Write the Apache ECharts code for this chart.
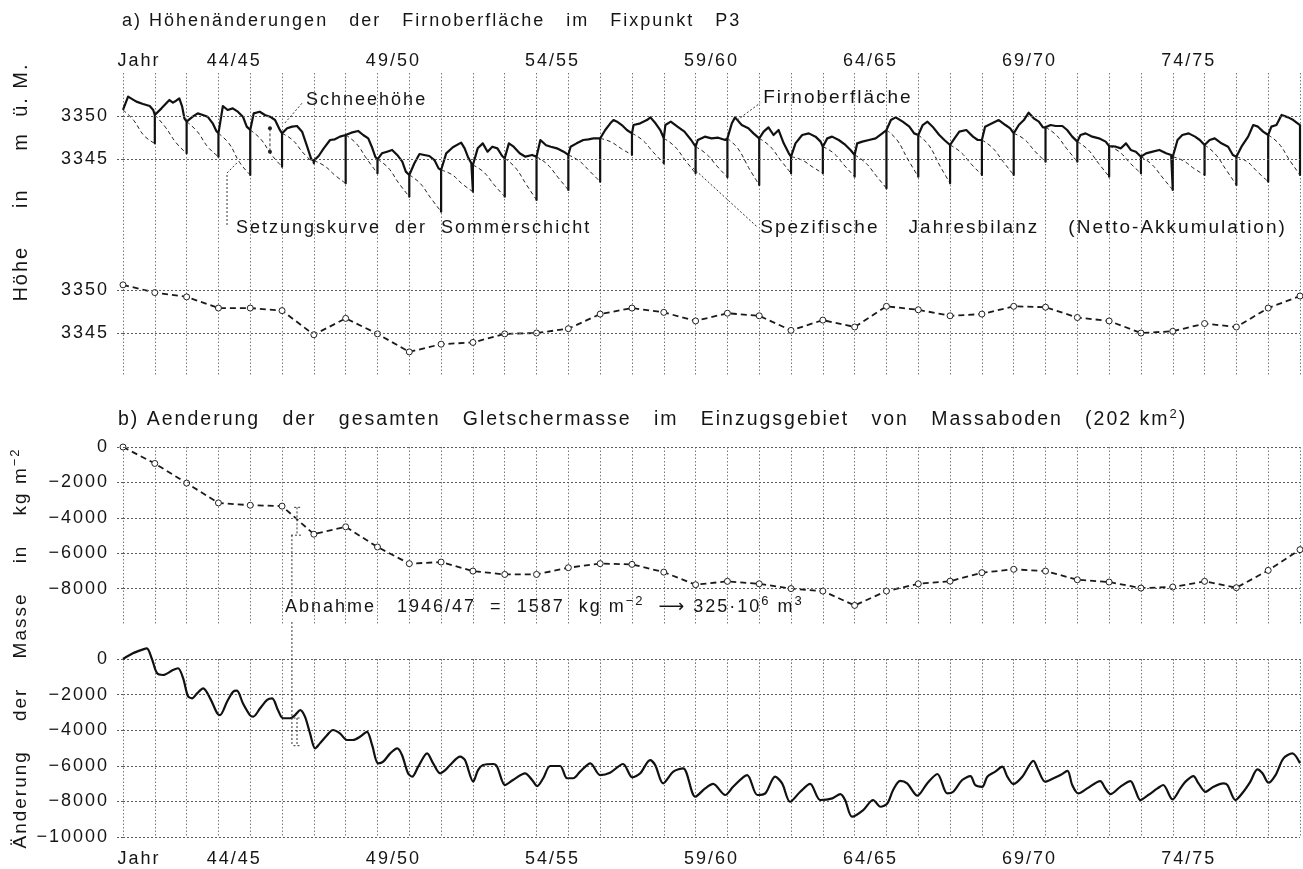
<!DOCTYPE html>
<html>
<head>
<meta charset="utf-8">
<script src="https://cdn.jsdelivr.net/npm/echarts@6/dist/echarts.min.js"></script>
<style>
  html, body { margin: 0; padding: 0; background: #fff; }
  #chart { width: 1303px; height: 869px; }
</style>
</head>
<body>
<div id="chart"></div>
<script>
// Time axis: t = years since 1 October 1941 (start of hydrological year 41/42).
const xLabelPos = [0.5, 3.5, 8.5, 13.5, 18.5, 23.5, 28.5, 33.5];
const xLabelText = ['Jahr', '44/45', '49/50', '54/55', '59/60', '64/65', '69/70', '74/75'];

// a) Firn surface height at stake P3 [m ü.M.], [t, h]
const firnSurface = [
  [0, 3350.70], [0.16, 3352.25], [0.42, 3351.67], [0.63, 3351.40], [0.84, 3351.16], [0.95, 3350.70],
  [1, 3350.12], [1.21, 3350.89], [1.36, 3351.47], [1.46, 3351.86], [1.57, 3351.55], [1.67, 3351.78], [1.77, 3352.05], [1.86, 3351.09], [1.93, 3349.73],
  [2, 3349.34], [2.19, 3349.92], [2.35, 3350.31], [2.51, 3350.12], [2.66, 3349.92], [2.82, 3349.15], [2.93, 3348.29],
  [3, 3347.98], [3.14, 3351.16], [3.29, 3350.70], [3.45, 3350.89], [3.61, 3350.50], [3.77, 3349.92], [3.89, 3348.76],
  [4, 3348.37], [4.11, 3350.31], [4.30, 3350.50], [4.46, 3350.12], [4.62, 3349.92], [4.78, 3349.53], [4.92, 3348.45],
  [5, 3347.98], [5.16, 3348.57], [5.32, 3348.76], [5.47, 3348.84], [5.63, 3348.18], [5.79, 3346.43], [5.92, 3344.96],
  [6, 3344.81], [6.15, 3345.35], [6.31, 3346.24], [6.51, 3347.21], [6.66, 3347.29], [6.82, 3347.60],
  [7, 3347.79], [7.18, 3348.06], [7.39, 3348.26], [7.55, 3347.79], [7.71, 3347.40], [7.82, 3346.43], [7.93, 3345.27],
  [8, 3344.96], [8.14, 3345.66], [8.30, 3345.85], [8.46, 3346.05], [8.62, 3345.47], [8.78, 3344.69], [8.89, 3343.53],
  [9, 3343.14], [9.16, 3344.50], [9.32, 3345.58], [9.47, 3345.47], [9.63, 3345.35], [9.79, 3344.88], [9.92, 3343.91],
  [10, 3343.72], [10.16, 3345.66], [10.37, 3346.36], [10.63, 3346.90], [10.74, 3346.24], [10.84, 3345.27], [10.95, 3344.50],
  [11, 3344.30], [11.15, 3346.24], [11.31, 3346.82], [11.46, 3345.85], [11.61, 3346.43], [11.77, 3346.24], [11.92, 3345.35],
  [12, 3345.08], [12.13, 3346.82], [12.28, 3346.43], [12.47, 3345.66], [12.65, 3345.27], [12.86, 3345.47],
  [13, 3345.27], [13.12, 3347.21], [13.30, 3346.60], [13.45, 3346.43], [13.64, 3346.24], [13.85, 3345.85],
  [14, 3345.47], [14.07, 3346.43], [14.26, 3346.82], [14.47, 3347.21], [14.63, 3347.29], [14.79, 3347.40],
  [15, 3347.40], [15.16, 3348.37], [15.32, 3349.15], [15.42, 3349.53], [15.53, 3349.34], [15.68, 3348.95], [15.84, 3348.37],
  [16, 3347.98], [16.05, 3348.95], [16.26, 3349.15], [16.47, 3349.53], [16.58, 3349.84], [16.74, 3349.15], [16.89, 3348.37],
  [17, 3347.40], [17.05, 3348.95], [17.22, 3349.34], [17.43, 3348.76], [17.65, 3348.18], [17.86, 3347.21],
  [18, 3346.43], [18.07, 3347.21], [18.29, 3347.60], [18.50, 3347.40], [18.71, 3347.48], [18.93, 3347.21],
  [19, 3347.40], [19.14, 3349.15], [19.24, 3349.84], [19.45, 3348.95], [19.66, 3348.57], [19.82, 3347.98],
  [20, 3347.40], [20.14, 3348.18], [20.29, 3348.68], [20.45, 3347.79], [20.61, 3348.37], [20.77, 3346.82], [20.93, 3345.66],
  [21, 3345.27], [21.14, 3346.82], [21.35, 3347.79], [21.56, 3347.98], [21.77, 3347.60], [21.93, 3347.02],
  [22, 3346.43], [22.14, 3347.40], [22.29, 3347.60], [22.50, 3347.21], [22.71, 3346.63], [22.87, 3346.05],
  [23, 3345.47], [23.08, 3346.82], [23.24, 3347.02], [23.45, 3347.21], [23.66, 3347.40], [23.87, 3347.98],
  [24, 3348.37], [24.14, 3349.53], [24.29, 3349.84], [24.51, 3349.34], [24.72, 3348.76], [24.87, 3347.98],
  [25, 3347.79], [25.14, 3348.95], [25.29, 3349.34], [25.45, 3348.76], [25.66, 3347.79], [25.82, 3347.21],
  [26, 3346.63], [26.14, 3347.40], [26.29, 3348.18], [26.51, 3348.37], [26.72, 3347.60], [26.87, 3347.21],
  [27, 3347.21], [27.10, 3348.76], [27.32, 3349.15], [27.53, 3349.53], [27.74, 3348.95], [27.89, 3348.57],
  [28, 3347.98], [28.16, 3348.95], [28.32, 3349.53], [28.47, 3350.39], [28.63, 3349.73], [28.79, 3349.34], [28.92, 3348.68],
  [29, 3348.68], [29.16, 3348.95], [29.32, 3348.84], [29.53, 3348.84], [29.68, 3348.37], [29.84, 3347.60],
  [30, 3347.02], [30.10, 3347.79], [30.26, 3347.98], [30.47, 3347.60], [30.68, 3347.40], [30.89, 3347.02],
  [31, 3346.51], [31.21, 3346.43], [31.37, 3346.24], [31.53, 3346.82], [31.68, 3346.05], [31.84, 3345.85],
  [32, 3345.27], [32.16, 3345.66], [32.37, 3345.85], [32.58, 3346.05], [32.79, 3345.66], [32.95, 3345.47],
  [33, 3345.27], [33.15, 3347.21], [33.30, 3347.79], [33.50, 3347.98], [33.70, 3347.60], [33.85, 3347.21],
  [34, 3346.63], [34.16, 3347.21], [34.32, 3347.40], [34.53, 3346.82], [34.74, 3346.43], [34.89, 3345.47],
  [35, 3345.27], [35.16, 3346.43], [35.37, 3347.60], [35.53, 3348.95], [35.68, 3348.76], [35.84, 3348.18],
  [36, 3347.79], [36.10, 3348.76], [36.26, 3348.95], [36.42, 3350.12], [36.63, 3349.84], [36.79, 3349.53],
  [37, 3348.95]
];

// Settling of each summer layer: height one year after it formed [m ü.M.]
const settleEnd = [
  3346.82, 3345.66, 3345.27, 3343.14, 3344.11, 3344.50, 3342.17, 3343.33, 3340.62, 3338.88,
  3341.20, 3340.62, 3340.23, 3341.40, 3342.36, 3345.47, 3344.50, 3343.33, 3342.87, 3341.98,
  3343.33, 3343.33, 3342.95, 3341.59, 3342.95, 3342.17, 3343.14, 3343.14, 3344.69, 3344.69,
  3342.95, 3343.33, 3341.40, 3343.14, 3341.98, 3342.36, 3343.14
];
// Summer-layer height after one and two thirds of the year
const settleMid = [
  [3349.5, 3347.7], [3348.7, 3346.9], [3348.2, 3346.4], [3346.8, 3344.6], [3347.3, 3345.5],
  [3347.2, 3345.7], [3344.2, 3343.1], [3346.8, 3345.0], [3344.0, 3342.2], [3342.2, 3340.5],
  [3343.2, 3342.1], [3343.5, 3342.0], [3344.0, 3342.1], [3344.4, 3342.9], [3344.8, 3343.6],
  [3347.0, 3346.2], [3347.2, 3345.8], [3346.5, 3344.9], [3345.6, 3344.2], [3346.2, 3344.0],
  [3346.5, 3344.9], [3344.9, 3344.1], [3345.7, 3344.3], [3344.6, 3343.1], [3347.2, 3345.0],
  [3346.6, 3344.3], [3345.8, 3344.4], [3346.3, 3344.7], [3347.3, 3345.9], [3347.8, 3346.2],
  [3346.1, 3344.5], [3345.8, 3344.5], [3344.4, 3342.9], [3344.8, 3343.9], [3345.6, 3343.8],
  [3344.7, 3343.5], [3346.8, 3344.9]
];

// Surface height at the end of each hydrological year [m ü.M.]
const yearEndHeight = [
  3350.6, 3349.7, 3349.2, 3347.9, 3347.9, 3347.6, 3344.8, 3346.7, 3344.9, 3342.8,
  3343.7, 3343.9, 3344.9, 3345.0, 3345.5, 3347.2, 3347.9, 3347.4, 3346.4, 3347.3,
  3347.0, 3345.3, 3346.5, 3345.7, 3348.1, 3347.7, 3347.0, 3347.2, 3348.1, 3348.0,
  3346.8, 3346.4, 3345.0, 3345.2, 3346.1, 3345.7, 3347.9, 3349.3
];

// b) Cumulative glacier mass change, Massaboden basin [kg m^-2], end of each year
const massYearEnd = [
  0, -930, -2040, -3160, -3290, -3340, -4927, -4510, -5650, -6590,
  -6500, -7010, -7200, -7200, -6820, -6590, -6630, -7070, -7780, -7590,
  -7730, -8000, -8140, -8950, -8140, -7730, -7580, -7100, -6910, -7010,
  -7500, -7630, -7970, -7910, -7590, -7950, -6970, -5800
];

// Continuous cumulative mass change [t, kg m^-2]
const massContinuous = [
  [0, 0], [0.31, 320], [0.63, 540], [0.75, 600], [0.91, 0], [1.07, -800], [1.26, -900], [1.57, -620], [1.73, -520], [1.89, -1080],
  [2.04, -2080], [2.17, -2210], [2.33, -1930], [2.52, -1650], [2.74, -2210], [2.96, -3050], [3.05, -3150], [3.27, -2400], [3.46, -1840], [3.58, -1780],
  [3.77, -2490], [3.99, -3150], [4.09, -3240], [4.31, -2770], [4.53, -2300], [4.69, -2210], [4.87, -2870], [5.03, -3330], [5.25, -3330], [5.41, -3150],
  [5.57, -2870], [5.72, -3240], [5.88, -4180], [6.04, -5020], [6.19, -4740], [6.42, -4270], [6.60, -3990], [6.82, -4180], [7.04, -4550], [7.23, -4550],
  [7.45, -4370], [7.67, -4090], [7.83, -4830], [8.02, -5860], [8.18, -5770], [8.40, -5300], [8.62, -5020], [8.77, -5390], [8.96, -6420], [9.09, -6610],
  [9.28, -6050], [9.56, -5300], [9.75, -5860], [9.97, -6420], [10.13, -6240], [10.28, -5960], [10.60, -5490], [10.75, -5680], [11.01, -6890], [11.16, -6240],
  [11.32, -5960], [11.64, -5900], [11.76, -6050], [12.01, -7080], [12.26, -6800], [12.64, -6420], [12.86, -6800], [13.02, -7140], [13.21, -6700], [13.43, -6010],
  [13.74, -6010], [13.96, -6700], [14.15, -6700], [14.37, -6330], [14.69, -5860], [15.0, -6520], [15.31, -6390], [15.72, -5900], [16.01, -6650], [16.26, -6420],
  [16.57, -5680], [16.73, -5960], [16.98, -6990], [17.30, -6330], [17.61, -6140], [17.99, -7740], [18.30, -7270], [18.55, -7020], [18.93, -7640], [19.18, -7180],
  [19.62, -6520], [19.94, -7640], [20.19, -7550], [20.50, -6610], [20.72, -6990], [20.97, -8020], [21.29, -7460], [21.60, -7020], [21.92, -7920], [22.30, -7830],
  [22.55, -7590], [22.70, -7920], [22.92, -8860], [23.27, -8490], [23.58, -7920], [23.81, -8300], [24.03, -8110], [24.21, -7360], [24.43, -6850], [24.65, -6990],
  [24.97, -7680], [25.28, -6990], [25.60, -6460], [25.91, -7550], [26.10, -7460], [26.38, -6800], [26.64, -6580], [26.79, -7080], [27.01, -7180], [27.17, -6610],
  [27.42, -6330], [27.64, -6050], [27.80, -6610], [27.99, -7020], [28.27, -6610], [28.62, -5720], [28.77, -6240], [28.99, -6890], [29.25, -6700], [29.47, -6520],
  [29.69, -6280], [29.84, -7080], [30.03, -7550], [30.31, -7270], [30.72, -6860], [30.88, -7270], [31.04, -7590], [31.35, -7180], [31.67, -6860], [31.82, -7360],
  [31.98, -7920], [32.23, -7640], [32.52, -7270], [32.70, -7080], [32.99, -7890], [33.24, -7270], [33.40, -6890], [33.65, -6580], [33.81, -6990], [34.03, -7460],
  [34.28, -7180], [34.59, -6990], [34.72, -7080], [34.97, -7920], [35.22, -7460], [35.44, -6890], [35.66, -6200], [35.82, -6420], [36.01, -6950], [36.23, -6520],
  [36.48, -5580], [36.76, -5300], [37, -5860]
];

// Annotation leaders and brackets, in data coordinates
const snowDepthMarker = [[4.62, 3348.57], [4.62, 3345.85]];
const snowLeader = [[5.09, 3349.19], [5.66, 3351.63]];
const firnLeader = [[19.31, 3349.53], [20.03, 3351.51]];
const settleLeader = [[3.58, 3344.53], [3.27, 3343.37], [3.27, 3337.09]];
const balanceLeader = [[17.92, 3343.95], [19.94, 3337.09]];
const lossBracketTop = [[5.47, -3410], [5.47, -4980]];
const lossBracketTopCaps = [[[5.38, -3410], [5.60, -3410]], [[5.28, -4980], [5.60, -4980]]];
const lossLinkTop = [[5.31, -4980], [5.31, -8450]];
const lossLinkBottom = [[5.31, 2080], [5.31, -4870]];
const lossBracketBottom = [[5.47, -3315], [5.47, -4870]];
const lossBracketBottomCaps = [[[5.36, -3315], [5.60, -3315]], [[5.36, -4870], [5.60, -4870]]];

// a little extra tracking for every piece of canvas text
(function () {
  const proto = window.CanvasRenderingContext2D && CanvasRenderingContext2D.prototype;
  if (!proto || !('letterSpacing' in proto)) return;
  ['fillText', 'strokeText', 'measureText'].forEach(function (name) {
    const fn = proto[name];
    proto[name] = function () { this.letterSpacing = '2px'; return fn.apply(this, arguments); };
  });
})();

const FONT = '"Liberation Sans", Arial, sans-serif';
const INK = '#151515';
const vGrid = { color: '#7a7a7a', width: 1, type: [1.5, 2] };
const hGrid = { color: '#5a5a5a', width: 1, type: [2, 2] };
const labelStyle = { color: INK, fontSize: 18, fontFamily: FONT };
const supStyle = { fontSize: 13, fontFamily: FONT, lineHeight: 14, verticalAlign: 'top', fill: INK };

const minus = v => String(v).replace('-', '\u2212');

function xAxisFor(gridIndex, extra) {
  return Object.assign({
    type: 'value', gridIndex: gridIndex, min: 0, max: 37, interval: 1,
    axisLine: { show: false }, axisTick: { show: false }, axisLabel: { show: false },
    splitLine: { show: true, lineStyle: vGrid }
  }, extra || {});
}
const xLabels = function (margin) {
  return Object.assign({
    show: true, customValues: xLabelPos, margin: margin,
    formatter: v => xLabelText[xLabelPos.indexOf(v)] || ''
  }, labelStyle);
};

function yAxisFor(gridIndex, min, max, labelValues, extra) {
  return Object.assign({
    type: 'value', gridIndex: gridIndex, min: min, max: max,
    axisLine: { show: false },
    splitLine: { show: false },
    axisTick: { show: true, length: 6, customValues: labelValues, lineStyle: hGrid },
    axisLabel: Object.assign({ customValues: labelValues, margin: 14, formatter: minus }, labelStyle)
  }, extra || {});
}

function hLines(values) {
  return {
    silent: true, symbol: ['none', 'none'], animation: false,
    label: { show: false },
    lineStyle: hGrid,
    emphasis: { disabled: true },
    data: values.map(v => ({ yAxis: v }))
  };
}

function guide(xi, data, extra) {
  return Object.assign({
    type: 'line', xAxisIndex: xi, yAxisIndex: xi, data: data,
    symbol: 'none', clip: false, silent: true, z: 4,
    lineStyle: { color: '#333', width: 1, type: [2, 2] }
  }, extra || {});
}
function annotationLabel(text, size, offset) {
  return {
    show: true, formatter: text, distance: 3, offset: offset || [0, 0],
    color: INK, fontSize: size, fontFamily: FONT
  };
}

// Firn surface line, with the annual net accumulation drawn as a drop to the settled layer
const surfaceAt = {};
firnSurface.forEach(p => { if (Number.isInteger(p[0])) surfaceAt[p[0]] = p[1]; });
const firnLine = [];
firnSurface.forEach(function (p) {
  firnLine.push(p);
  const t = p[0];
  if (Number.isInteger(t) && t >= 1 && t - 1 < settleEnd.length) {
    firnLine.push([t, settleEnd[t - 1]], [t, p[1]]);
  }
});

const settleSeries = settleEnd.map((d, i) => ({
  type: 'line', xAxisIndex: 0, yAxisIndex: 0, symbol: 'none', smooth: 0.45, clip: false, silent: true,
  lineStyle: { color: '#222', width: 1, type: [4, 3] },
  data: [[i, surfaceAt[i]], [i + 1 / 3, settleMid[i][0]], [i + 2 / 3, settleMid[i][1]], [i + 1, d]]
}));

const pointMarks = {
  symbol: 'circle', symbolSize: 6, showSymbol: true,
  itemStyle: { color: '#fff', borderColor: '#222', borderWidth: 1 }
};

const option = {
  animation: false,
  backgroundColor: '#fff',
  textStyle: { fontFamily: FONT },
  grid: [
    { left: 123, right: 3, top: 73, height: 172 },
    { left: 123, right: 3, top: 247, height: 129 },
    { left: 123, right: 3, top: 447, height: 177 },
    { left: 123, right: 3, top: 659, height: 178 }
  ],
  xAxis: [
    xAxisFor(0, { position: 'top', axisLabel: xLabels(2) }),
    xAxisFor(1),
    xAxisFor(2),
    xAxisFor(3, {
      position: 'bottom', axisLabel: xLabels(12),
      axisTick: { show: true, length: 8, lineStyle: vGrid }
    })
  ],
  yAxis: [
    yAxisFor(0, 3335, 3355, [3345, 3350]),
    yAxisFor(1, 3340, 3355, [3345, 3350]),
    yAxisFor(2, -10000, 0, [0, -2000, -4000, -6000, -8000]),
    yAxisFor(3, -10000, 0, [0, -2000, -4000, -6000, -8000, -10000], {
      interval: 2000, splitLine: { show: true, lineStyle: hGrid }
    })
  ],
  graphic: [
    {
      type: 'text', x: 122, y: 21,
      style: {
        text: 'a) Höhenänderungen   der   Firnoberfläche   im   Fixpunkt   P3',
        fill: INK, font: '18px ' + FONT, verticalAlign: 'middle', textVerticalAlign: 'middle'
      }
    },
    {
      type: 'text', x: 118, y: 420,
      style: {
        text: 'b) Aenderung   der   gesamten   Gletschermasse   im   Einzugsgebiet   von   Massaboden   (202 km{sup|2})',
        fill: INK, fontSize: 19.5, fontFamily: FONT, verticalAlign: 'middle', textVerticalAlign: 'middle',
        rich: { sup: supStyle },
        lineHeight: 26
      }
    },
    {
      type: 'text', x: 21, y: 182, rotation: Math.PI / 2,
      style: {
        text: 'Höhe     in     m  ü. M.',
        fill: INK, font: '20px ' + FONT, align: 'center', textAlign: 'center',
        verticalAlign: 'middle', textVerticalAlign: 'middle'
      }
    },
    {
      type: 'text', x: 21, y: 648, rotation: Math.PI / 2,
      style: {
        text: 'Änderung    der    Masse    in    kg m{sup|\u22122}',
        fill: INK, fontSize: 19, fontFamily: FONT, align: 'center', textAlign: 'center',
        verticalAlign: 'middle', textVerticalAlign: 'middle', lineHeight: 26,
        rich: { sup: supStyle }
      }
    },
    {
      type: 'text', x: 285, y: 607,
      style: {
        text: 'Abnahme   1946/47  =  1587  kg m{sup|\u22122}  {arr|\u27F6} 325·10{sup|6} m{sup|3}',
        fill: INK, fontSize: 18, fontFamily: FONT, verticalAlign: 'middle', textVerticalAlign: 'middle',
        lineHeight: 26,
        rich: {
          sup: supStyle,
          arr: { fontSize: 18, fontFamily: '"DejaVu Sans", sans-serif', fill: INK }
        }
      }
    }
  ],
  series: [
    {
      name: 'Firnoberfläche', type: 'line', xAxisIndex: 0, yAxisIndex: 0,
      data: firnLine, symbol: 'none', clip: false, z: 3,
      lineStyle: { color: '#111', width: 2.2, join: 'round' },
      markLine: hLines([3345, 3350])
    },
    ...settleSeries,
    guide(0, snowDepthMarker, { symbol: 'circle', symbolSize: 4, showSymbol: true, itemStyle: { color: '#222' }, lineStyle: { color: '#333', width: 1, type: [3, 2] } }),
    guide(0, snowLeader, { endLabel: annotationLabel('Schneehöhe', 18, [0, -2]) }),
    guide(0, firnLeader, { endLabel: annotationLabel('Firnoberfläche', 19, [0, -5]) }),
    guide(0, settleLeader, { endLabel: annotationLabel('Setzungskurve  der  Sommerschicht', 18, [6, 1]) }),
    guide(0, balanceLeader, { endLabel: annotationLabel('Spezifische    Jahresbilanz    (Netto-Akkumulation)', 19, [0, 1]) }),
    Object.assign({
      name: 'Jahresende', type: 'line', xAxisIndex: 1, yAxisIndex: 1, z: 3,
      data: yearEndHeight.map((h, i) => [i, h]),
      lineStyle: { color: '#1a1a1a', width: 1.8, type: [6, 4] },
      markLine: hLines([3345, 3350])
    }, pointMarks),
    Object.assign({
      name: 'Massenänderung Jahr', type: 'line', xAxisIndex: 2, yAxisIndex: 2, z: 3,
      data: massYearEnd.map((v, i) => [i, v]),
      lineStyle: { color: '#1a1a1a', width: 1.8, type: [6, 4] },
      markLine: hLines([0, -2000, -4000, -6000, -8000])
    }, pointMarks),
    guide(2, lossBracketTop),
    guide(2, lossBracketTopCaps[0]),
    guide(2, lossBracketTopCaps[1]),
    guide(2, lossLinkTop),
    {
      name: 'Massenänderung', type: 'line', xAxisIndex: 3, yAxisIndex: 3, z: 3,
      data: massContinuous, symbol: 'none', smooth: 0.3, clip: false,
      lineStyle: { color: '#111', width: 2.2 }
    },
    guide(3, lossLinkBottom),
    guide(3, lossBracketBottom),
    guide(3, lossBracketBottomCaps[0]),
    guide(3, lossBracketBottomCaps[1])
  ]
};

const chart = echarts.init(document.getElementById('chart'), null, { renderer: 'canvas' });
chart.setOption(option);
</script>
</body>
</html>
